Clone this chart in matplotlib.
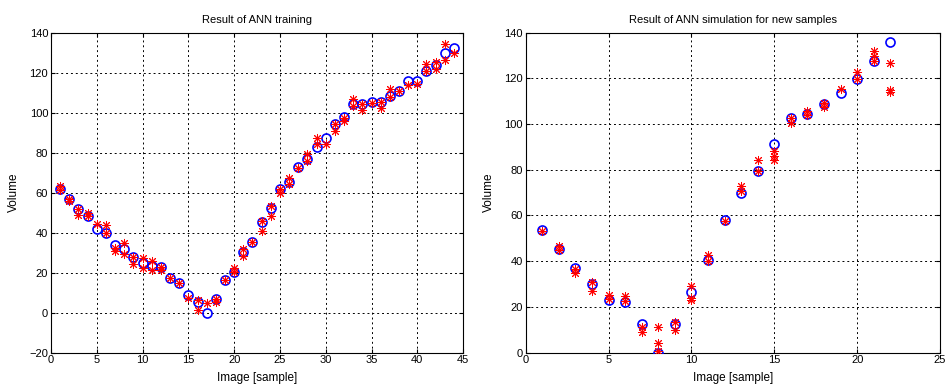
import numpy as np
import matplotlib.pyplot as plt

plt.rcParams['font.family'] = ['Liberation Sans', 'DejaVu Sans']

# training: target volumes (blue circles) for samples 1..44
train_x = list(range(1, 45))
train_target = [62, 57, 52, 48.5, 41.7, 40, 34, 31.8, 27.8, 24.7,
                23.2, 22.8, 17.5, 14.8, 8.8, 5.2, 0, 7, 16.3, 20.5,
                30.3, 35.3, 45.2, 52.2, 61.8, 65.5, 73, 76.7, 83, 87.2,
                94.2, 97.8, 104.2, 104.2, 105.3, 105.5, 108.5, 110.7, 115.8, 115.8,
                120.8, 123.7, 129.7, 132.5]

# training: network outputs (red stars), several runs per sample
train_out_x = [1, 1, 2, 2, 3, 3, 4, 4, 5, 6, 6, 7, 7, 8, 8, 9, 9, 10, 10,
               11, 11, 12, 12, 13, 14, 15, 16, 16, 17, 18, 18, 19, 20, 20,
               21, 21, 22, 23, 23, 24, 24, 25, 25, 26, 26, 27, 28, 28,
               29, 29, 30, 31, 31, 32, 32, 33, 33, 34, 34, 35, 36, 36,
               37, 37, 38, 39, 40, 41, 41, 42, 42, 43, 43, 44]
train_out_y = [63.3, 61.5, 57, 56, 52, 48.8, 49.7, 48.5, 44.2, 43.7, 40, 32.5, 30.8, 34.7, 29.2, 27.8, 24.2, 27.2, 22.5,
               25.8, 21.2, 22.8, 21.5, 17.5, 14.8, 7.5, 6.5, 1.3, 5, 7, 5.5, 16.3, 22.2, 20.5,
               31.7, 28.3, 35.3, 45.8, 40.8, 53.3, 48.3, 61.8, 60, 67.5, 64.2, 72.5, 79.2, 76,
               87.5, 84.5, 84.2, 94.5, 90.8, 97.5, 95.8, 106.7, 103.5, 104.5, 101.2, 105, 105.5, 102.5,
               111.7, 108, 111, 113.7, 114.5, 124.2, 120.8, 125.5, 122, 134.2, 126.2, 130]

# simulation: target volumes for new samples 1..22
sim_x = list(range(1, 23))
sim_target = [53.5, 45.4, 36.9, 29.9, 23, 22, 12.5, 0, 12.5, 26.4,
              40.4, 57.8, 69.8, 79.5, 91.4, 102.5, 104.5, 108.9, 113.7, 119.5,
              127.4, 136]

sim_out_x = [1, 2, 2, 3, 3, 4, 4, 5, 5, 6, 6, 7, 7, 8, 8, 8, 9, 9, 10, 10, 10,
             11, 11, 12, 13, 13, 14, 14, 15, 15, 15, 16, 16, 17, 17, 18, 18,
             19, 20, 20, 21, 21, 21, 22, 22, 22]
sim_out_y = [53, 46.7, 45, 36.5, 35, 31, 27.1, 25.2, 23.5, 24.8, 22.7, 11.3, 9.1, 11.3, 4, 0.5, 13.5, 9.9, 28.9, 23.8, 23,
             42.8, 40.2, 57.5, 73, 70.5, 84.4, 79.5, 88, 85.9, 84.4, 102.5, 100.5, 105.5, 104, 109, 107.5,
             115.1, 122.7, 119.5, 131.9, 129.7, 127.4, 126.5, 114.8, 113.9]

fig = plt.figure(figsize=(9.49, 3.87), dpi=100)
ax1 = fig.add_axes([0.0537, 0.089, 0.4343, 0.827])
ax2 = fig.add_axes([0.554, 0.089, 0.4365, 0.827])

star = (8, 2, 0)


def style(ax, title, xmax, ymin, yticks):
    ax.set_title(title, fontsize=8, pad=7)
    ax.set_xlabel('Image [sample]', fontsize=8.5, labelpad=5)
    ax.set_ylabel('Volume', fontsize=8.5, labelpad=7)
    ax.set_xlim(0, xmax)
    ax.set_ylim(ymin, 140)
    ax.set_xticks(np.arange(0, xmax + 1, 5))
    ax.set_yticks(yticks)
    ax.tick_params(direction='in', labelsize=8, length=3, top=True, right=True, pad=2)
    ax.grid(True, color='black', linestyle=(0, (2, 3)), linewidth=0.7)
    ax.set_axisbelow(True)
    for s in ax.spines.values():
        s.set_linewidth(0.8)


ax1.plot(train_x, train_target, 'o', mfc='none', mec='blue', ms=6.5, mew=1.2, zorder=3)
ax1.plot(train_out_x, train_out_y, linestyle='none', marker=star, color='red', ms=6.5, mew=0.7, zorder=4)
style(ax1, 'Result of ANN training', 45, -20, np.arange(-20, 141, 20))

ax2.plot(sim_x, sim_target, 'o', mfc='none', mec='blue', ms=6.5, mew=1.2, zorder=3)
ax2.plot(sim_out_x, sim_out_y, linestyle='none', marker=star, color='red', ms=6.5, mew=0.7, zorder=4)
style(ax2, 'Result of ANN simulation for new samples', 25, 0, np.arange(0, 141, 20))

fig.savefig('out.png', dpi=100)
